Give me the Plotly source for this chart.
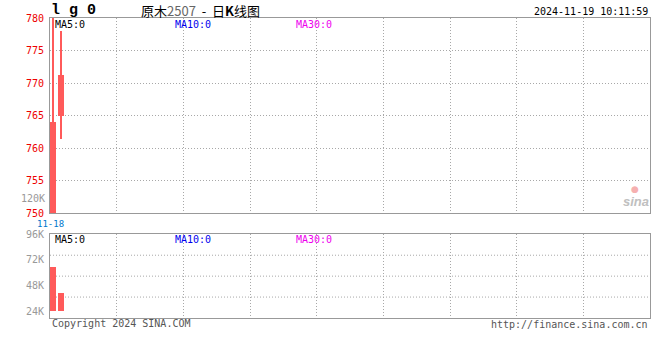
import plotly.graph_objects as go

# ---- data ----
DATES = ["2024-11-18", "2024-11-19"]
OPEN = [750.0, 764.9]
HIGH = [780.0, 778.0]
LOW = [750.0, 761.4]
CLOSE = [764.1, 771.2]
VOLUME = [64650, 40240]
PRICE_TICKS = [750, 755, 760, 765, 770, 775, 780]
VOL_TICKS = [24000, 48000, 72000, 96000]
VOL_TICK_TEXT = ["24K", "48K", "72K", "96K"]

# ---- layout constants ----
W, H = 660, 360
ML, MR, MT, MB = 50, 10, 18, 42
PW, PH = W - ML - MR, H - MT - MB
N_SLOTS = 75
X_RANGE = [-0.375, N_SLOTS - 0.375]
VOL_BASE = 24000
RED = "#ff5a5a"
MONO = "DejaVu Sans Mono"
DOT = "1px,2px"


def px(x):
    return (x - ML) / PW


def py(y):
    return (MT + PH - y) / PH


idx = list(range(len(DATES)))

fig = go.Figure()
# candle wicks
fig.add_trace(go.Bar(x=idx, y=[h - l for h, l in zip(HIGH, LOW)], base=LOW, width=0.14,
                     marker=dict(color=RED, line=dict(width=0)), xaxis="x", yaxis="y",
                     hoverinfo="skip", showlegend=False))
# candle bodies
fig.add_trace(go.Bar(x=idx, y=[c - o for c, o in zip(CLOSE, OPEN)], base=OPEN, width=0.75,
                     marker=dict(color=RED, line=dict(width=0)), xaxis="x", yaxis="y",
                     hoverinfo="skip", showlegend=False))
# volume
fig.add_trace(go.Bar(x=idx, y=[v - VOL_BASE for v in VOLUME], base=VOL_BASE, width=0.75,
                     marker=dict(color=RED, line=dict(width=0)), xaxis="x2", yaxis="y2",
                     hoverinfo="skip", showlegend=False))

grid = dict(showgrid=True, gridcolor="#a8a8a8", griddash=DOT, gridwidth=1,
            showline=True, mirror=True, linecolor="#999999", linewidth=1, zeroline=False)

xcommon = dict(range=X_RANGE, tick0=X_RANGE[0], dtick=N_SLOTS / 9, showticklabels=False,
               ticks="", fixedrange=True, **grid)

fig.update_layout(
    width=W, height=H,
    margin=dict(l=ML, r=MR, t=MT, b=MB),
    paper_bgcolor="white", plot_bgcolor="white",
    barmode="overlay", bargap=0,
    showlegend=False,
    xaxis=dict(domain=[0, 1], anchor="y", **xcommon),
    xaxis2=dict(domain=[0, 1], anchor="y2", matches="x", **xcommon),
    yaxis=dict(domain=[py(213.3), 1], range=[750, 780], tickvals=PRICE_TICKS,
               ticks="outside", ticklen=3, tickcolor="rgba(0,0,0,0)", fixedrange=True,
               tickfont=dict(family=MONO, size=10, color="#ee0000"), **grid),
    yaxis2=dict(domain=[0, py(234.3)], range=[17430, 96000], tickvals=VOL_TICKS,
                ticktext=VOL_TICK_TEXT, ticks="outside", ticklen=3, tickcolor="rgba(0,0,0,0)",
                tickfont=dict(family=MONO, size=10, color="#999999"), fixedrange=True,
                showgrid=False, showline=True, mirror=True, linecolor="#999999",
                linewidth=1, zeroline=False),
    font=dict(family=MONO, size=10, color="#000"),
)

# volume panel gridlines (quarters)
for f in (0.25, 0.5, 0.75):
    fig.add_shape(type="line", xref="x2 domain", yref="y2 domain", x0=0, x1=1, y0=f, y1=f,
                  line=dict(color="#a8a8a8", width=1, dash=DOT), layer="below")

ann = []


def text(x, y, t, size=10, color="#000", xanchor="left", family=MONO, **kw):
    ann.append(dict(x=px(x), y=py(y), xref="paper", yref="paper", text=t, showarrow=False,
                    xanchor=xanchor, yanchor="middle",
                    font=dict(family=family, size=size, color=color), **kw))


text(49, 10, "<b>l g 0</b>", size=15, family="Liberation Mono")
text(200, 11, "原木<span style='color:#666'>2507</span>\u00a0\u00a0-\u00a0\u00a0日<b>K</b>线图",
     size=13, family="Noto Sans CJK SC", xanchor="center")
text(650, 12, "2024-11-19 10:11:59", xanchor="right")
# MA labels
for yy in (24, 239):
    text(53, yy, "MA5:0", color="#000")
    text(173, yy, "MA10:0", color="#0000ee")
    text(294, yy, "MA30:0", color="#ee00ee")
text(47, 199, "120K", color="#999999", xanchor="right", size=10)
text(50, 223.5, DATES[0][5:], color="#0077cc", xanchor="center", size=9)
text(50, 323, "Copyright 2024 SINA.COM", color="#555555")
text(650, 324, "http://finance.sina.com.cn", color="#555555", xanchor="right")
# watermark
text(635, 189, "●", color="#f6b0b0", xanchor="center", size=9, family="DejaVu Sans")
text(636, 201, "<i><b>sina</b></i>", color="#c0c0c0", xanchor="center", size=13,
     family="Liberation Sans")
fig.update_layout(annotations=ann)

fig.write_html("out.html", config={"displayModeBar": False},
               post_script="document.body.style.margin='0';")
